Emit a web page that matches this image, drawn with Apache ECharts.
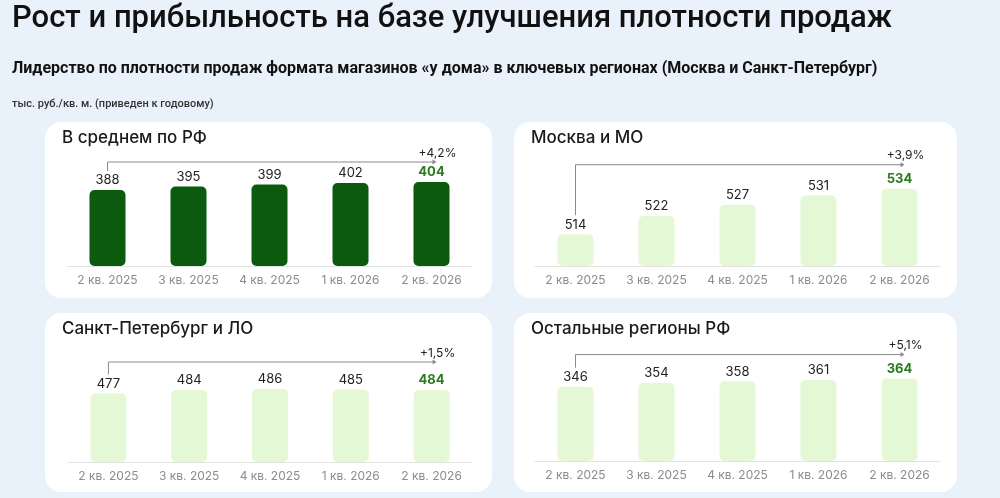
<!DOCTYPE html>
<html><head><meta charset="utf-8">
<script src="https://cdn.jsdelivr.net/npm/echarts@6/dist/echarts.min.js"></script>
<style>html,body{margin:0;padding:0;background:#e9f1fb;}#c{width:1000px;height:498px;}</style>
</head><body><div id="c"></div>
<script>
const categories = ['2 кв. 2025', '3 кв. 2025', '4 кв. 2025', '1 кв. 2026', '2 кв. 2026'];
const avgRF = [388, 395, 399, 402, 404];
const moscow = [514, 522, 527, 531, 534];
const spb = [477, 484, 486, 485, 484];
const otherRegions = [346, 354, 358, 361, 364];
const panelTitles = ['В среднем по РФ', 'Москва и МО', 'Санкт-Петербург и ЛО', 'Остальные регионы РФ'];
const growthLabels = ['+4,2%', '+3,9%', '+1,5%', '+5,1%'];
const seriesData = [avgRF, moscow, spb, otherRegions];

const mainTitle = 'Рост и прибыльность на базе улучшения плотности продаж';
const subTitle = 'Лидерство по плотности продаж формата магазинов «у дома» в ключевых регионах (Москва и Санкт-Петербург)';
const unitText = 'тыс. руб./кв. м. (приведен к годовому)';

// layout / style
const panels = [
  {x: 45, y: 122, w: 447, h: 176},
  {x: 514, y: 122, w: 443, h: 176},
  {x: 45, y: 313, w: 447, h: 179},
  {x: 514, y: 313, w: 443, h: 179}
];
const grids = [
  {left: 67, top: 166, width: 405, height: 100, min: 236, max: 436},
  {left: 535, top: 166, width: 405, height: 100, min: 500, max: 544},
  {left: 68, top: 362, width: 404, height: 100, min: 340, max: 540},
  {left: 535, top: 361, width: 405, height: 100, min: 181, max: 403}
];
const barColors = ['#0b5a0e', '#e5f8d6', '#e5f8d6', '#e5f8d6'];
const bracketOffset = [20, 24, 27, 24];
const FONT = 'Inter, "Noto Sans", sans-serif';

const chart = echarts.init(document.getElementById('c'), null, {renderer: 'canvas'});

const baseGraphics = [
  {type: 'text', left: 12, top: 4, style: {text: mainTitle, font: '500 31px Roboto, sans-serif', fill: '#111'}},
  {type: 'text', left: 12, top: 61, style: {text: subTitle, font: 'bold 16px Roboto, sans-serif', fill: '#111'}},
  {type: 'text', left: 12, top: 99, style: {text: unitText, font: '500 11px Roboto, sans-serif', fill: '#333'}}
];
panels.forEach((p, i) => {
  baseGraphics.push({type: 'rect', shape: {x: p.x, y: p.y, width: p.w, height: p.h, r: 16}, style: {fill: '#ffffff'}, z: -10});
  baseGraphics.push({type: 'text', x: p.x + 17, y: p.y + 7, style: {text: panelTitles[i], font: '500 17px ' + FONT, fill: '#1a1a1a'}});
});

const option = {
  animation: false,
  backgroundColor: '#e9f1fb',
  grid: grids.map(g => ({left: g.left, top: g.top, width: g.width, height: g.height})),
  xAxis: grids.map((g, i) => ({
    type: 'category', gridIndex: i, data: categories,
    axisLine: {lineStyle: {color: '#e3e3e3'}}, axisTick: {show: false},
    axisLabel: {color: '#8c8c8c', fontSize: 12, margin: 8, fontFamily: FONT}
  })),
  yAxis: grids.map((g, i) => ({
    type: 'value', gridIndex: i, min: g.min, max: g.max, show: false, splitLine: {show: false}
  })),
  series: seriesData.map((arr, i) => ({
    type: 'bar', xAxisIndex: i, yAxisIndex: i, barWidth: 36,
    itemStyle: {color: barColors[i], borderRadius: 5},
    label: {show: true, position: 'top', distance: 3, fontSize: 13, color: '#222', fontFamily: FONT},
    data: arr.map((v, k) => k === arr.length - 1
      ? {value: v, label: {color: '#2b7a1d', fontWeight: 'bold'}}
      : v)
  })),
  graphic: baseGraphics
};
chart.setOption(option);

// brackets
const extra = [];
seriesData.forEach((arr, i) => {
  const last = arr.length - 1;
  const p0 = chart.convertToPixel({xAxisIndex: i, yAxisIndex: i}, [0, arr[0]]);
  const pl = chart.convertToPixel({xAxisIndex: i, yAxisIndex: i}, [last, arr[last]]);
  const maxV = Math.max.apply(null, arr);
  const pm = chart.convertToPixel({xAxisIndex: i, yAxisIndex: i}, [0, maxV]);
  const yb = pm[1] - bracketOffset[i];
  const yStart = p0[1] - 19;
  const xEnd = pl[0] + 2;
  extra.push({type: 'polyline', shape: {points: [[p0[0], yStart], [p0[0], yb], [xEnd, yb]]}, style: {stroke: '#8a8a8a', lineWidth: 1, fill: null}});
  extra.push({type: 'polygon', shape: {points: [[xEnd + 3, yb], [xEnd - 1, yb - 2.5], [xEnd - 1, yb + 2.5]]}, style: {fill: '#8a8a8a'}});
  extra.push({type: 'text', x: xEnd + 4, y: yb - 9, style: {text: growthLabels[i], font: '12px ' + FONT, fill: '#222', align: 'center', verticalAlign: 'middle'}});
});
chart.setOption({graphic: baseGraphics.concat(extra)});
</script></body></html>
